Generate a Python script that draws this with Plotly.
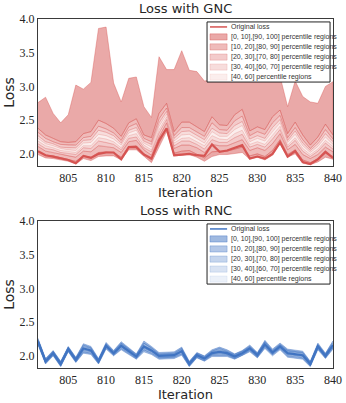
import plotly.graph_objects as go

ITERATIONS = list(range(801, 841))

# GNC run: percentile envelopes (0,10,20,30,40,60,70,80,90,100) + original loss
GNC_P0 = [1.99, 1.94, 1.93, 1.91, 1.89, 1.85, 1.93, 1.90, 1.96, 1.97,
          1.97, 1.91, 2.06, 2.06, 1.96, 1.87, 2.10, 2.33, 1.97, 1.98,
          1.99, 1.95, 1.89, 1.96, 1.99, 1.99, 2.00, 2.02, 1.92, 1.95,
          1.91, 1.98, 2.15, 1.95, 2.00, 1.86, 1.84, 1.88, 1.95, 1.92]
GNC_P10 = [2.04, 1.98, 1.97, 1.94, 1.92, 1.89, 1.97, 1.95, 2.02, 2.03,
           2.02, 1.95, 2.11, 2.12, 2.00, 1.91, 2.16, 2.38, 2.01, 2.04,
           2.05, 2.00, 1.94, 2.03, 2.04, 2.04, 2.07, 2.10, 1.97, 2.00,
           1.96, 2.05, 2.21, 1.99, 2.06, 1.91, 1.87, 1.92, 2.01, 1.96]
GNC_P20 = [2.11, 2.04, 2.02, 1.99, 1.97, 1.95, 2.04, 2.03, 2.12, 2.11,
           2.09, 2.02, 2.18, 2.20, 2.06, 1.98, 2.25, 2.46, 2.08, 2.13,
           2.13, 2.09, 2.02, 2.14, 2.12, 2.12, 2.17, 2.21, 2.05, 2.09,
           2.05, 2.15, 2.30, 2.06, 2.14, 1.99, 1.93, 1.99, 2.10, 2.03]
GNC_P30 = [2.15, 2.08, 2.06, 2.02, 2.01, 1.99, 2.09, 2.08, 2.19, 2.17,
           2.14, 2.06, 2.23, 2.25, 2.09, 2.03, 2.31, 2.51, 2.12, 2.19,
           2.19, 2.14, 2.07, 2.21, 2.17, 2.17, 2.24, 2.29, 2.10, 2.14,
           2.10, 2.22, 2.36, 2.10, 2.20, 2.04, 1.96, 2.04, 2.16, 2.07]
GNC_P40 = [2.19, 2.12, 2.09, 2.05, 2.04, 2.02, 2.12, 2.12, 2.24, 2.22,
           2.18, 2.09, 2.27, 2.30, 2.13, 2.06, 2.36, 2.55, 2.16, 2.23,
           2.24, 2.18, 2.12, 2.27, 2.22, 2.21, 2.30, 2.35, 2.14, 2.18,
           2.14, 2.28, 2.41, 2.13, 2.24, 2.08, 1.99, 2.07, 2.20, 2.11]
GNC_P60 = [2.23, 2.15, 2.12, 2.08, 2.06, 2.05, 2.16, 2.17, 2.29, 2.27,
           2.22, 2.13, 2.31, 2.35, 2.16, 2.10, 2.41, 2.59, 2.19, 2.28,
           2.29, 2.23, 2.16, 2.33, 2.26, 2.26, 2.36, 2.42, 2.18, 2.23,
           2.19, 2.33, 2.46, 2.17, 2.29, 2.12, 2.02, 2.11, 2.25, 2.14]
GNC_P70 = [2.27, 2.18, 2.15, 2.10, 2.09, 2.09, 2.20, 2.21, 2.35, 2.32,
           2.27, 2.16, 2.35, 2.39, 2.19, 2.14, 2.46, 2.63, 2.23, 2.33,
           2.34, 2.27, 2.21, 2.38, 2.31, 2.30, 2.42, 2.48, 2.22, 2.27,
           2.23, 2.39, 2.51, 2.20, 2.34, 2.16, 2.05, 2.15, 2.30, 2.18]
GNC_P80 = [2.32, 2.23, 2.18, 2.14, 2.13, 2.13, 2.24, 2.26, 2.41, 2.37,
           2.31, 2.20, 2.40, 2.45, 2.23, 2.18, 2.52, 2.68, 2.27, 2.39,
           2.39, 2.33, 2.26, 2.46, 2.36, 2.35, 2.49, 2.56, 2.27, 2.33,
           2.29, 2.46, 2.57, 2.24, 2.39, 2.21, 2.08, 2.19, 2.36, 2.22]
GNC_P90 = [2.38, 2.28, 2.23, 2.18, 2.17, 2.18, 2.30, 2.33, 2.50, 2.45,
           2.38, 2.26, 2.46, 2.52, 2.28, 2.24, 2.60, 2.75, 2.33, 2.47,
           2.47, 2.40, 2.33, 2.55, 2.43, 2.42, 2.58, 2.66, 2.34, 2.40,
           2.36, 2.55, 2.65, 2.30, 2.47, 2.28, 2.13, 2.25, 2.44, 2.28]
GNC_P100 = [2.76, 2.84, 2.60, 2.46, 2.58, 3.02, 2.96, 3.06, 3.86, 3.88,
            3.05, 2.77, 3.12, 3.14, 2.70, 2.54, 3.44, 3.25, 3.25, 3.53,
            3.24, 3.22, 3.08, 3.10, 3.15, 3.20, 3.10, 3.30, 3.15, 3.20,
            3.25, 3.10, 3.15, 2.70, 3.08, 2.85, 2.77, 2.75, 3.00, 3.07]
GNC_LOSS = [2.04, 1.98, 1.96, 1.93, 1.91, 1.86, 1.97, 1.94, 2.00, 2.02,
            2.02, 1.92, 2.10, 2.10, 1.99, 1.93, 2.20, 2.38, 1.98, 1.99,
            2.00, 1.98, 1.97, 2.14, 2.03, 2.05, 2.09, 2.13, 1.93, 1.96,
            1.93, 2.00, 2.17, 1.96, 2.04, 1.88, 1.85, 1.92, 2.03, 1.94]

# RNC run
RNC_P0 = [2.16, 1.88, 2.00, 1.84, 2.06, 1.90, 2.04, 2.02, 1.88, 2.10,
          2.00, 2.09, 2.02, 1.95, 2.06, 2.02, 1.95, 1.95, 1.96, 2.01,
          1.84, 1.97, 1.92, 1.99, 1.99, 1.99, 1.95, 2.00, 2.06, 1.97,
          2.11, 2.00, 2.09, 1.98, 1.97, 1.95, 1.84, 2.09, 1.96, 2.10]
RNC_P10 = [2.18, 1.89, 2.01, 1.85, 2.07, 1.91, 2.06, 2.04, 1.89, 2.12,
           2.01, 2.11, 2.04, 1.96, 2.09, 2.04, 1.97, 1.97, 1.98, 2.03,
           1.85, 1.98, 1.93, 2.01, 2.01, 2.01, 1.96, 2.01, 2.08, 1.98,
           2.13, 2.02, 2.11, 2.00, 1.99, 1.97, 1.85, 2.11, 1.97, 2.12]
RNC_P20 = [2.19, 1.90, 2.02, 1.86, 2.08, 1.92, 2.08, 2.06, 1.90, 2.13,
           2.02, 2.13, 2.05, 1.97, 2.11, 2.06, 1.98, 1.98, 1.99, 2.05,
           1.86, 1.99, 1.94, 2.02, 2.03, 2.02, 1.97, 2.02, 2.09, 1.99,
           2.15, 2.03, 2.12, 2.02, 2.01, 1.99, 1.86, 2.12, 1.98, 2.14]
RNC_P30 = [2.20, 1.91, 2.03, 1.87, 2.09, 1.93, 2.09, 2.07, 1.91, 2.14,
           2.03, 2.14, 2.06, 1.98, 2.12, 2.07, 1.99, 1.99, 2.00, 2.06,
           1.87, 2.00, 1.95, 2.03, 2.04, 2.03, 1.98, 2.03, 2.10, 2.00,
           2.16, 2.04, 2.13, 2.03, 2.02, 2.00, 1.87, 2.13, 1.99, 2.15]
RNC_P40 = [2.20, 1.91, 2.03, 1.87, 2.09, 1.93, 2.10, 2.07, 1.91, 2.14,
           2.03, 2.14, 2.06, 1.98, 2.13, 2.07, 1.99, 1.99, 2.00, 2.06,
           1.87, 2.00, 1.95, 2.03, 2.05, 2.03, 1.98, 2.03, 2.10, 2.00,
           2.16, 2.04, 2.13, 2.03, 2.02, 2.00, 1.87, 2.13, 1.99, 2.15]
RNC_P60 = [2.22, 1.93, 2.05, 1.89, 2.11, 1.95, 2.12, 2.09, 1.93, 2.16,
           2.05, 2.16, 2.08, 2.00, 2.15, 2.09, 2.01, 2.01, 2.02, 2.08,
           1.89, 2.02, 1.97, 2.05, 2.07, 2.05, 2.00, 2.05, 2.12, 2.02,
           2.18, 2.06, 2.15, 2.05, 2.04, 2.02, 1.89, 2.15, 2.01, 2.17]
RNC_P70 = [2.22, 1.93, 2.05, 1.89, 2.11, 1.95, 2.13, 2.10, 1.93, 2.16,
           2.05, 2.17, 2.08, 2.00, 2.16, 2.10, 2.01, 2.01, 2.02, 2.09,
           1.89, 2.02, 1.97, 2.05, 2.08, 2.05, 2.00, 2.05, 2.12, 2.02,
           2.19, 2.06, 2.15, 2.06, 2.05, 2.03, 1.89, 2.15, 2.01, 2.18]
RNC_P80 = [2.23, 1.94, 2.06, 1.90, 2.12, 1.96, 2.14, 2.11, 1.94, 2.17,
           2.06, 2.18, 2.09, 2.01, 2.18, 2.11, 2.02, 2.02, 2.03, 2.10,
           1.90, 2.03, 1.98, 2.06, 2.09, 2.06, 2.01, 2.06, 2.13, 2.03,
           2.20, 2.07, 2.16, 2.07, 2.06, 2.04, 1.90, 2.16, 2.02, 2.19]
RNC_P90 = [2.24, 1.95, 2.07, 1.91, 2.13, 1.97, 2.16, 2.12, 1.95, 2.18,
           2.07, 2.19, 2.10, 2.02, 2.19, 2.12, 2.03, 2.03, 2.04, 2.11,
           1.91, 2.04, 1.99, 2.07, 2.11, 2.07, 2.02, 2.07, 2.14, 2.04,
           2.21, 2.08, 2.17, 2.08, 2.07, 2.05, 1.91, 2.17, 2.03, 2.20]
RNC_P100 = [2.26, 1.96, 2.08, 1.92, 2.14, 1.98, 2.18, 2.14, 1.96, 2.20,
            2.08, 2.21, 2.12, 2.03, 2.22, 2.14, 2.05, 2.05, 2.06, 2.13,
            1.92, 2.05, 2.00, 2.09, 2.13, 2.09, 2.03, 2.08, 2.16, 2.05,
            2.23, 2.10, 2.19, 2.10, 2.09, 2.07, 1.92, 2.19, 2.04, 2.22]
RNC_LOSS = [2.21, 1.92, 2.04, 1.88, 2.10, 1.94, 2.11, 2.08, 1.92, 2.15,
            2.04, 2.15, 2.07, 1.99, 2.14, 2.08, 2.00, 2.00, 2.01, 2.07,
            1.88, 2.01, 1.96, 2.04, 2.06, 2.04, 1.99, 2.04, 2.11, 2.01,
            2.17, 2.05, 2.14, 2.04, 2.03, 2.01, 1.88, 2.14, 2.00, 2.16]

BAND_NAMES = ["[0, 10],[90, 100] percentile regions",
              "[10, 20],[80, 90] percentile regions",
              "[20, 30],[70, 80] percentile regions",
              "[30, 40],[60, 70] percentile regions",
              "[40, 60] percentile regions"]
BAND_ALPHAS = [0.5, 0.4, 0.3, 0.2, 0.1]
X_TICKS = [805, 810, 815, 820, 825, 830, 835, 840]
Y_TICKS = [2.0, 2.5, 3.0, 3.5, 4.0]

RED = (214, 84, 82)
BLUE = (64, 116, 194)

SERIF = "Liberation Serif"
SANS = "DejaVu Sans"
SMALL_SANS = "Liberation Sans"


def rgba(c, a):
    return f"rgba({c[0]},{c[1]},{c[2]},{a})"


def addPanel(fig, pcts, loss, color, xa, ya):
    # pcts = [p0, p10, p20, p30, p40, p60, p70, p80, p90, p100]
    pairs = [[(0, 1), (8, 9)], [(1, 2), (7, 8)], [(2, 3), (6, 7)],
             [(3, 4), (5, 6)], [(4, 5)]]
    for k, bandPairs in enumerate(pairs):
        for lo, hi in bandPairs:
            xs = ITERATIONS + ITERATIONS[::-1]
            ys = pcts[lo] + pcts[hi][::-1]
            fig.add_trace(go.Scatter(
                x=xs, y=ys, mode="lines", fill="toself",
                fillcolor=rgba(color, BAND_ALPHAS[k]),
                line=dict(color=rgba(color, BAND_ALPHAS[k]), width=0.8),
                hoverinfo="skip", showlegend=False, xaxis=xa, yaxis=ya))
    fig.add_trace(go.Scatter(
        x=ITERATIONS, y=loss, mode="lines", name="Original loss",
        line=dict(color=rgba(color, 1), width=2.2),
        showlegend=False, xaxis=xa, yaxis=ya))


def addLegend(fig, color, xa, ya):
    # hand-drawn legend: plotly's own legend rows are too tall for this size
    xref = f"{xa} domain"
    yref = f"{ya} domain"
    fig.add_shape(type="rect", xref=xref, yref=yref,
                  x0=0.573, x1=0.99, y0=0.571, y1=0.98,
                  fillcolor="white", line=dict(color="#222222", width=1),
                  layer="above")
    rows = [0.946, 0.878, 0.810, 0.741, 0.673, 0.605]
    fig.add_shape(type="line", xref=xref, yref=yref,
                  x0=0.583, x1=0.641, y0=rows[0], y1=rows[0],
                  line=dict(color=rgba(color, 1), width=1.5), layer="above")
    labels = ["Original loss"] + BAND_NAMES
    for k, name in enumerate(BAND_NAMES):
        fig.add_shape(type="rect", xref=xref, yref=yref,
                      x0=0.583, x1=0.641,
                      y0=rows[k + 1] - 0.021, y1=rows[k + 1] + 0.021,
                      fillcolor=rgba(color, BAND_ALPHAS[k]),
                      line=dict(color=rgba(color, BAND_ALPHAS[k]), width=0.8),
                      layer="above")
    for y, text in zip(rows, labels):
        fig.add_annotation(xref=xref, yref=yref, x=0.648, y=y, text=text,
                           showarrow=False, xanchor="left", yanchor="middle",
                           font=dict(family=SMALL_SANS, size=7.0, color="#333333"))


def axisStyle():
    return dict(showline=True, mirror=True, linecolor="#3a3a3a", linewidth=1.3,
                showgrid=False, zeroline=False, ticks="",
                tickfont=dict(family=SERIF, size=12, color="#262626"))


fig = go.Figure()
addPanel(fig, [GNC_P0, GNC_P10, GNC_P20, GNC_P30, GNC_P40, GNC_P60,
               GNC_P70, GNC_P80, GNC_P90, GNC_P100], GNC_LOSS, RED, "x", "y")
addPanel(fig, [RNC_P0, RNC_P10, RNC_P20, RNC_P30, RNC_P40, RNC_P60,
               RNC_P70, RNC_P80, RNC_P90, RNC_P100], RNC_LOSS, BLUE, "x2", "y2")
addLegend(fig, RED, "x", "y")
addLegend(fig, BLUE, "x2", "y2")

titleFont = dict(family=SANS, size=13, color="#262626")
for xa, ya, title in [("x", "y", "Loss with GNC"), ("x2", "y2", "Loss with RNC")]:
    fig.add_annotation(xref=f"{xa} domain", yref=f"{ya} domain", x=0.5, y=1,
                       yanchor="bottom", yshift=1, showarrow=False,
                       text=title, font=titleFont)

xAxis = axisStyle()
xAxis.update(range=[801, 840], tickvals=X_TICKS, automargin=False,
             title=dict(text="Iteration", font=titleFont, standoff=2))
yAxis = axisStyle()
yAxis.update(range=[1.82, 4.0], tickvals=Y_TICKS, tickformat=".1f",
             automargin=False,
             title=dict(text="Loss", font=dict(family=SANS, size=14, color="#262626"),
                        standoff=1))

fig.update_layout(
    width=346, height=403,
    margin=dict(l=38, r=13, t=19, b=35),
    paper_bgcolor="white", plot_bgcolor="white",
    showlegend=False,
    xaxis=dict(xAxis, domain=[0, 1], anchor="y"),
    yaxis=dict(yAxis, domain=[0.5788, 1.0], anchor="x"),
    xaxis2=dict(xAxis, domain=[0, 1], anchor="y2"),
    yaxis2=dict(yAxis, domain=[0, 0.4212], anchor="x2"),
)

fig.write_html("out.html", config={"displayModeBar": False},
               post_script="document.body.style.margin='0';")
